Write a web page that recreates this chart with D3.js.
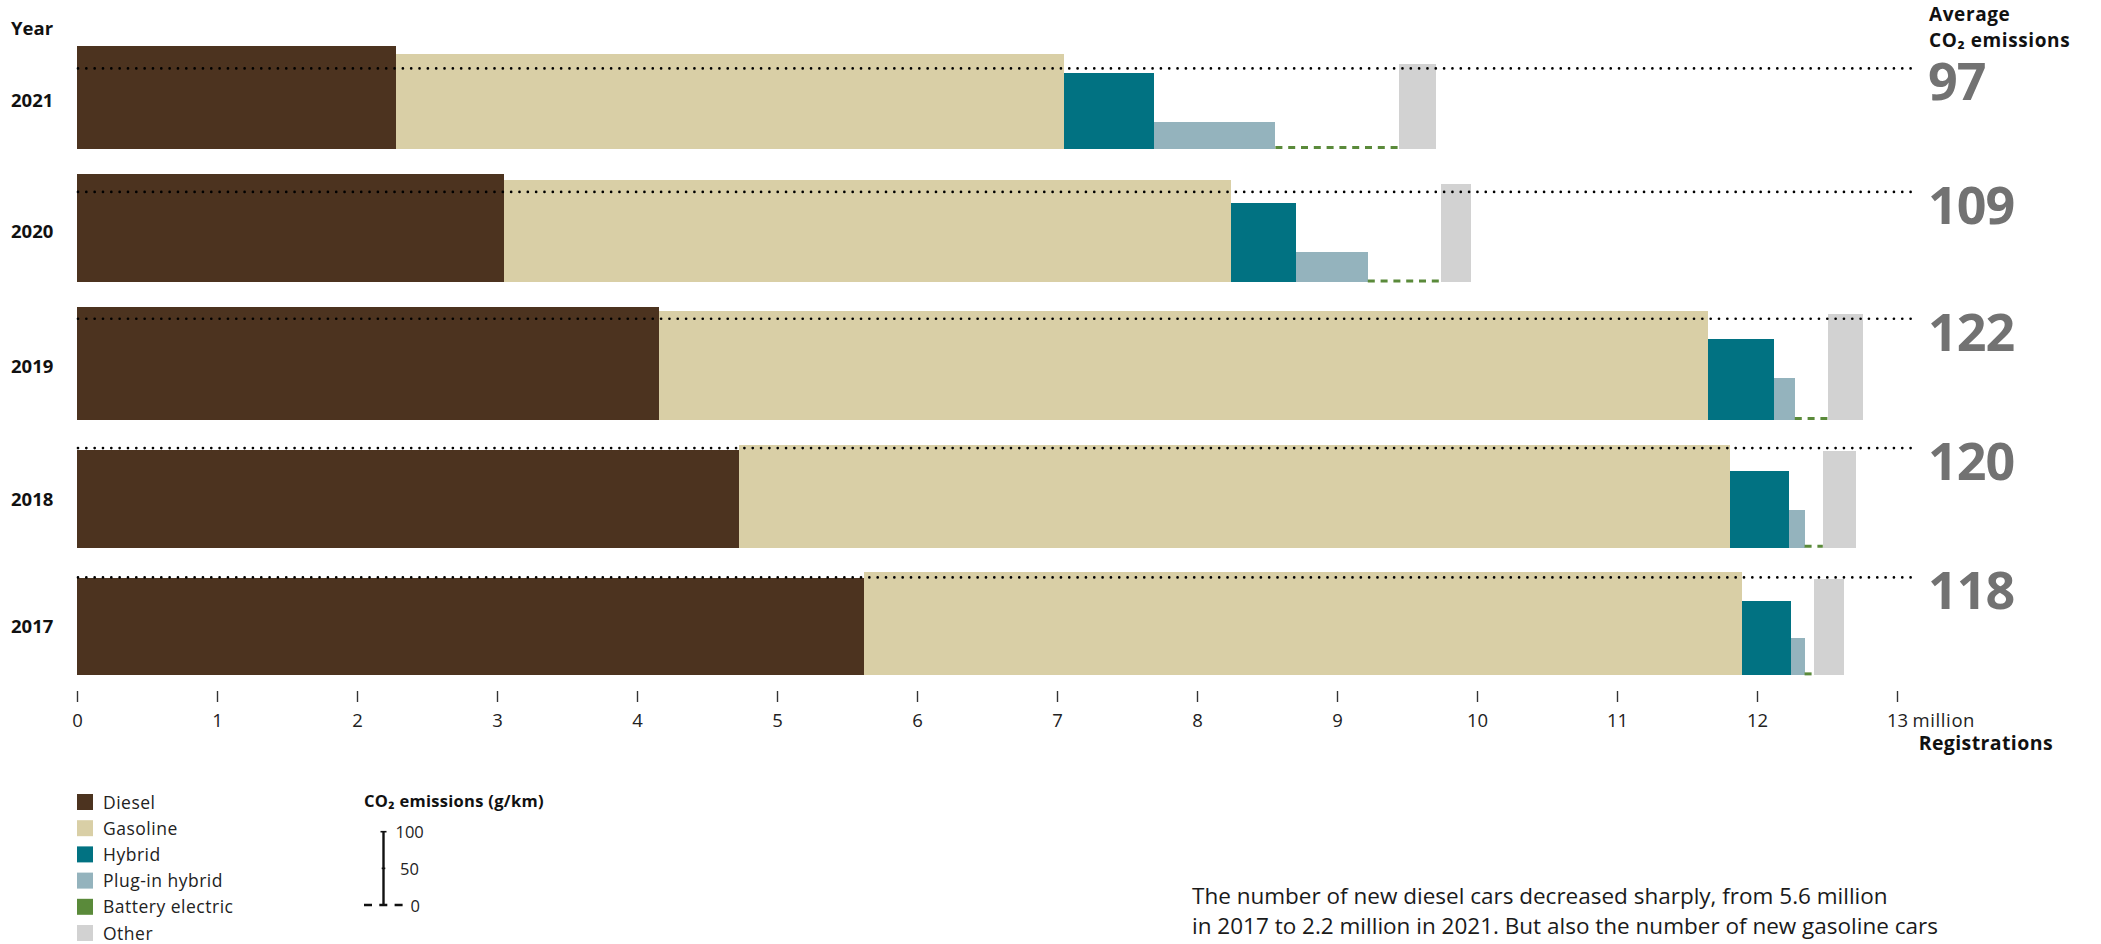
<!DOCTYPE html>
<html>
<head>
<meta charset="utf-8">
<script src="https://cdn.jsdelivr.net/npm/d3@7"></script>
<style>
  html, body { margin: 0; padding: 0; background: #fff; }
  svg { display: block; }
  text { font-family: "Open Sans", "Noto Sans", sans-serif; }
</style>
</head>
<body>
<svg id="chart" width="2101" height="944"></svg>
<script>
// ---------- DATA ----------
const years = ["2021", "2020", "2019", "2018", "2017"];
const fuels = ["Diesel", "Gasoline", "Hybrid", "Plug-in hybrid", "Battery electric", "Other"];
const fuelColors = ["#4c331f", "#d9cfa6", "#017282", "#94b3bd", "#5a8a3a", "#d2d2d2"];

// registrations (million) per year, in the order of `years`
const dieselReg   = [2.28, 3.05, 4.16, 4.73, 5.62];
const gasolineReg = [4.77, 5.19, 7.49, 7.08, 6.27];
const hybridReg   = [0.64, 0.47, 0.47, 0.42, 0.35];
const plugInReg   = [0.87, 0.51, 0.15, 0.11, 0.10];
const bevReg      = [0.88, 0.52, 0.24, 0.13, 0.07];
const otherReg    = [0.27, 0.22, 0.25, 0.24, 0.21];

// average CO2 emissions (g/km) per fuel and year
const dieselCO2   = [124, 131, 136, 118, 117.5];
const gasolineCO2 = [114, 123, 131, 124, 124];
const hybridCO2   = [92, 96, 98, 92, 90];
const plugInCO2   = [33, 37, 51, 45, 45];
const bevCO2      = [0, 0, 0, 0, 0];
const otherCO2    = [102, 118, 128, 117, 116.5];

const averageCO2  = [97, 109, 122, 120, 118];

const xTicks = [0, 1, 2, 3, 4, 5, 6, 7, 8, 9, 10, 11, 12, 13];
const legendScaleTicks = [0, 50, 100];

const headerLines = ["Average", "CO\u2082 emissions"];
const noteLines = [
  "The number of new diesel cars decreased sharply, from 5.6 million",
  "in 2017 to 2.2 million in 2021. But also the number of new gasoline cars"
];

// ---------- LAYOUT ----------
const svg = d3.select("#chart");
const x = d3.scaleLinear().domain([0, 13]).range([77, 1897]);
const h = d3.scaleLinear().domain([0, 100]).range([0, 83]);   // bar height per g/km
const rowGap = 24.75;
const firstTop = 46;

const regs = [dieselReg, gasolineReg, hybridReg, plugInReg, bevReg, otherReg];
const co2s = [dieselCO2, gasolineCO2, hybridCO2, plugInCO2, bevCO2, otherCO2];

// build rows
let curTop = firstTop;
const rows = years.map((yr, i) => {
  const vals = fuels.map((f, j) => ({ fuel: f, idx: j, reg: regs[j][i], co2: co2s[j][i] }));
  let cum = 0;
  vals.forEach(v => { v.x0 = cum; cum += v.reg; v.x1 = cum; });
  const maxCO2 = d3.max(vals, v => v.co2);
  const rowTop = curTop;
  const bottom = rowTop + h(maxCO2);
  curTop = bottom + rowGap;
  return { year: yr, vals, top: rowTop, bottom, avg: averageCO2[i] };
});

// ---------- BARS ----------
const gRows = svg.append("g").selectAll("g").data(rows).join("g");

gRows.selectAll("rect")
  .data(r => r.vals.filter(v => v.co2 > 0).map(v => Object.assign({ bottom: r.bottom }, v)))
  .join("rect")
  .attr("x", d => x(d.x0))
  .attr("width", d => x(d.x1) - x(d.x0))
  .attr("y", d => d.bottom - h(d.co2))
  .attr("height", d => h(d.co2))
  .attr("fill", d => fuelColors[d.idx])
  .attr("shape-rendering", "crispEdges");

// zero-emission (battery electric) as dashed line
gRows.selectAll("line.bev")
  .data(r => r.vals.filter(v => v.co2 === 0).map(v => Object.assign({ bottom: r.bottom }, v)))
  .join("line")
  .attr("class", "bev")
  .attr("x1", d => x(d.x0))
  .attr("x2", d => x(d.x1))
  .attr("y1", d => d.bottom - 1.5)
  .attr("y2", d => d.bottom - 1.5)
  .attr("stroke", fuelColors[4])
  .attr("stroke-width", 3)
  .attr("stroke-dasharray", "7,5.8");

// average dotted line
gRows.append("line")
  .attr("x1", x(0) + 1)
  .attr("x2", 1916)
  .attr("y1", r => r.bottom - h(r.avg))
  .attr("y2", r => r.bottom - h(r.avg))
  .attr("stroke", "#000")
  .attr("stroke-width", 2.7)
  .attr("stroke-linecap", "round")
  .attr("stroke-dasharray", "0,8.33");

// average value labels
gRows.append("text")
  .attr("x", 1928)
  .attr("y", r => r.bottom - h(r.avg) + 32)
  .attr("font-size", 52)
  .attr("font-weight", 700)
  .attr("fill", "#727272")
  .attr("letter-spacing", -1)
  .text(r => r.avg);

// year labels
gRows.append("text")
  .attr("x", 11)
  .attr("y", r => (r.top + r.bottom) / 2 + 2)
  .attr("dominant-baseline", "central")
  .attr("font-size", 18.5)
  .attr("font-weight", 700)
  .attr("fill", "#111")
  .text(r => r.year);

svg.append("text")
  .attr("x", 11).attr("y", 35)
  .attr("font-size", 18.5).attr("font-weight", 700).attr("fill", "#111")
  .text("Year");

// header for average column (one text, two lines)
svg.append("text")
  .attr("x", 1929).attr("y", 20.5)
  .attr("font-size", 19).attr("font-weight", 700).attr("fill", "#111")
  .attr("letter-spacing", 0.6)
  .selectAll("tspan").data(headerLines).join("tspan")
  .attr("x", 1929)
  .attr("dy", (d, i) => i === 0 ? 0 : 26.5)
  .text(d => d);

// ---------- X AXIS ----------
const axisY = 691;
const axis = svg.append("g")
  .attr("transform", `translate(0,${axisY})`)
  .call(d3.axisBottom(x).tickValues(xTicks).tickSize(11).tickFormat(d3.format("d")));
axis.select(".domain").remove();
axis.selectAll(".tick line").attr("stroke", "#333").attr("stroke-width", 1.4);
axis.selectAll(".tick text")
  .attr("y", 35.7).attr("dy", 0)
  .attr("font-size", 18.5)
  .attr("font-family", "'Open Sans', sans-serif")
  .attr("fill", "#222");

// "million" after last tick label
const lastTick = axis.selectAll(".tick text").filter(d => d === 13).node();
const w13 = lastTick.getComputedTextLength();
svg.append("text")
  .attr("x", x(13) + w13 / 2 + 5)
  .attr("y", axisY + 35.7)
  .attr("font-size", 18.5).attr("fill", "#222")
  .attr("letter-spacing", 0.6)
  .text("million");

svg.append("text")
  .attr("x", 2053).attr("y", 750)
  .attr("text-anchor", "end")
  .attr("font-size", 19.5).attr("font-weight", 700).attr("fill", "#111")
  .attr("letter-spacing", 0.4)
  .text("Registrations");

// ---------- LEGEND ----------
const legY = d3.scaleLinear().domain([0, fuels.length - 1]).range([794, 925]);
const leg = svg.append("g").selectAll("g").data(fuels).join("g")
  .attr("transform", (d, i) => `translate(77,${legY(i)})`);
leg.append("rect")
  .attr("width", 16).attr("height", 16)
  .attr("fill", (d, i) => fuelColors[i]);
leg.append("text")
  .attr("x", 26).attr("y", 7.5)
  .attr("dominant-baseline", "central")
  .attr("font-size", 17.5).attr("fill", "#222")
  .attr("letter-spacing", 0.5)
  .text(d => d);

// CO2 scale legend
svg.append("text")
  .attr("x", 364).attr("y", 806.5)
  .attr("font-size", 16.5).attr("font-weight", 700).attr("fill", "#111")
  .attr("letter-spacing", 0.3)
  .text("CO\u2082 emissions (g/km)");

const sY = d3.scaleLinear().domain([0, 100]).range([905, 831.7]);
const sx = 383.5;
svg.append("line")
  .attr("x1", sx).attr("x2", sx)
  .attr("y1", sY(0)).attr("y2", sY(100))
  .attr("stroke", "#111").attr("stroke-width", 2.4);
svg.append("g").selectAll("line").data(legendScaleTicks.filter(d => d > 0)).join("line")
  .attr("x1", d => d === 100 ? sx - 3 : sx - 1.8)
  .attr("x2", d => d === 100 ? sx + 3 : sx + 1.8)
  .attr("y1", d => sY(d)).attr("y2", d => sY(d))
  .attr("stroke", "#111").attr("stroke-width", 1.6);
svg.append("line")
  .attr("x1", 364).attr("x2", 404)
  .attr("y1", sY(0)).attr("y2", sY(0))
  .attr("stroke", "#111").attr("stroke-width", 2.6)
  .attr("stroke-dasharray", "8,7.3");
svg.append("g").selectAll("text").data(legendScaleTicks).join("text")
  .attr("x", d => d === 100 ? 395.5 : (d === 50 ? 400 : 410.5))
  .attr("y", d => sY(d))
  .attr("dominant-baseline", "central")
  .attr("font-size", 16.5).attr("fill", "#222")
  .text(d => d);

// ---------- NOTE TEXT ----------
svg.append("g").selectAll("text").data(noteLines).join("text")
  .attr("x", 1192)
  .attr("y", (d, i) => 904.3 + i * 30)
  .attr("font-size", 22.5).attr("fill", "#1a1a1a")
  .text(d => d);
</script>
</body>
</html>
